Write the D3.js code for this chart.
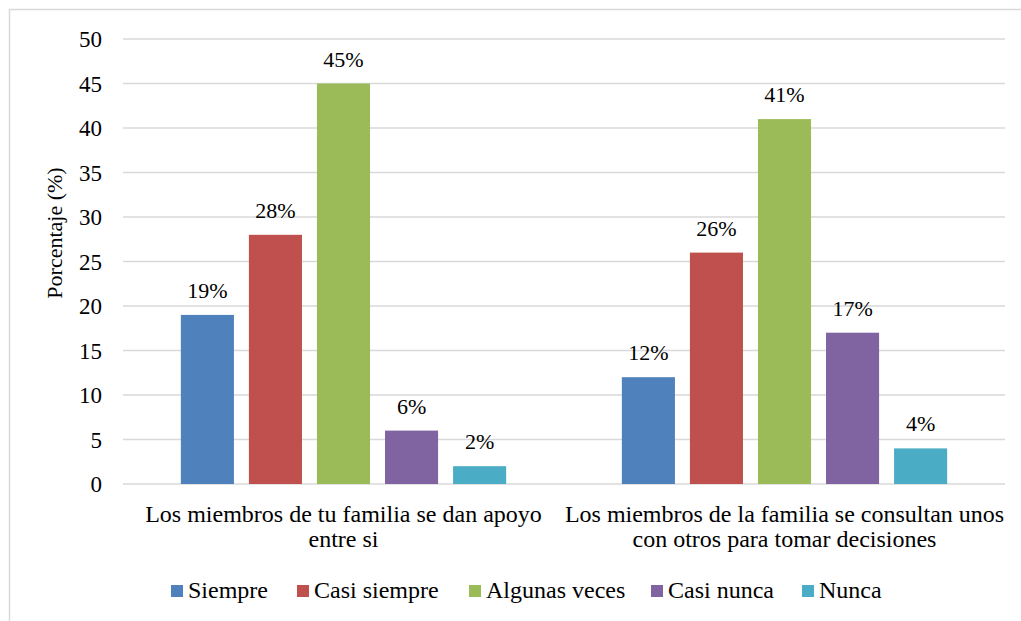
<!DOCTYPE html>
<html>
<head>
<meta charset="utf-8">
<script src="https://cdn.jsdelivr.net/npm/d3@7"></script>
<style>
  body { margin: 0; background: #fff; }
</style>
</head>
<body>
<script>
/* datos */
var categorias = [
  ['Los miembros de tu familia se dan apoyo', 'entre si'],
  ['Los miembros de la familia se consultan unos', 'con otros para tomar decisiones']
];
var series = ['Siempre', 'Casi siempre', 'Algunas veces', 'Casi nunca', 'Nunca'];
var colores = ['#4F81BD', '#C0504D', '#9BBB59', '#8064A2', '#4BACC6'];
var valores = [
  [19, 28, 45, 6, 2],   /* apoyo */
  [12, 26, 41, 17, 4]   /* consultan */
];
var ticksY = [0, 5, 10, 15, 20, 25, 30, 35, 40, 45, 50];

var fuente = 'Liberation Serif';

var svg = d3.select('body').append('svg')
  .attr('width', 1021)
  .attr('height', 621);

/* borde del grafico */
svg.append('path')
  .attr('d', 'M9.5,640 V9.5 H1040')
  .attr('fill', 'none')
  .attr('stroke', '#d9d9d9')
  .attr('stroke-width', 1.5);

var izq = 123, der = 1005, arriba = 39, abajo = 484;

var y = d3.scaleLinear().domain([0, 50]).range([abajo, arriba]);
var x0 = d3.scaleBand().domain([0, 1]).range([izq, der]).padding(0);
var x1 = d3.scaleBand().domain(series).range([0, x0.bandwidth()])
  .paddingInner(0.22).paddingOuter(0.85);

/* lineas de cuadricula */
svg.append('g').selectAll('line').data(ticksY).join('line')
  .attr('x1', izq).attr('x2', der)
  .attr('y1', function (d) { return y(d); })
  .attr('y2', function (d) { return y(d); })
  .attr('stroke', '#d9d9d9')
  .attr('stroke-width', 1.5);

/* etiquetas del eje y */
svg.selectAll('text.tick').data(ticksY).join('text')
  .attr('class', 'tick')
  .attr('x', 102)
  .attr('y', function (d) { return y(d) + 8; })
  .attr('text-anchor', 'end')
  .attr('font-family', fuente)
  .attr('font-size', 23)
  .text(function (d) { return d; });

svg.append('text')
  .attr('transform', 'translate(62,' + 233 + ') rotate(-90)')
  .attr('text-anchor', 'middle')
  .attr('font-family', fuente)
  .attr('font-size', 22)
  .text('Porcentaje (%)');

/* barras */
var barras = [];
valores.forEach(function (fila, i) {
  fila.forEach(function (v, j) { barras.push({ c: i, s: j, v: v }); });
});
function bx(d) { return x0(d.c) + x1(series[d.s]); }

svg.append('g').selectAll('rect').data(barras).join('rect')
  .attr('x', bx)
  .attr('y', function (d) { return y(d.v); })
  .attr('width', x1.bandwidth())
  .attr('height', function (d) { return y(0) - y(d.v); })
  .attr('fill', function (d) { return colores[d.s]; });

svg.selectAll('text.valor').data(barras).join('text')
  .attr('class', 'valor')
  .attr('x', function (d) { return bx(d) + x1.bandwidth() / 2; })
  .attr('y', function (d) { return y(d.v) - 17; })
  .attr('text-anchor', 'middle')
  .attr('font-family', fuente)
  .attr('font-size', 22)
  .text(function (d) { return d.v + '%'; });

/* etiquetas de categoria */
var lineas = [];
categorias.forEach(function (c, i) {
  c.forEach(function (t, j) { lineas.push({ t: t, c: i, l: j }); });
});
svg.selectAll('text.cat').data(lineas).join('text')
  .attr('class', 'cat')
  .attr('x', function (d) { return x0(d.c) + x0.bandwidth() / 2; })
  .attr('y', function (d) { return 522 + d.l * 25; })
  .attr('text-anchor', 'middle')
  .attr('font-family', fuente)
  .attr('font-size', 24)
  .text(function (d) { return d.t; });

/* leyenda */
var leyendaX = [171, 297, 469, 651, 802];
svg.append('g').selectAll('rect').data(series).join('rect')
  .attr('x', function (d, i) { return leyendaX[i]; })
  .attr('y', 585)
  .attr('width', 12).attr('height', 12)
  .attr('fill', function (d, i) { return colores[i]; });
svg.selectAll('text.ley').data(series).join('text')
  .attr('class', 'ley')
  .attr('x', function (d, i) { return leyendaX[i] + 17; })
  .attr('y', 598)
  .attr('font-family', fuente)
  .attr('font-size', 24)
  .text(function (d) { return d; });
</script>
</body>
</html>
